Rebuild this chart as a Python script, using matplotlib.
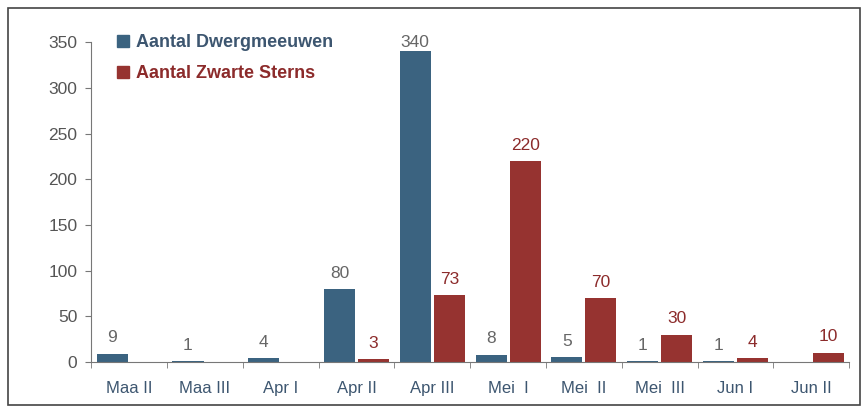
import matplotlib.pyplot as plt
from matplotlib.patches import Rectangle, Patch
import numpy as np

plt.rcParams['font.family'] = ['Liberation Sans', 'DejaVu Sans']

categories = ['Maa II', 'Maa III', 'Apr I', 'Apr II', 'Apr III',
              'Mei  I', 'Mei  II', 'Mei  III', 'Jun I', 'Jun II']
dwergmeeuwen = [9, 1, 4, 80, 340, 8, 5, 1, 1, 0]
zwarte_sterns = [0, 0, 0, 3, 73, 220, 70, 30, 4, 10]
yticks = [0, 50, 100, 150, 200, 250, 300, 350]

blue = '#3b6380'
red = '#963330'
blue_txt = '#3d5670'
red_txt = '#8c2b2b'

fig = plt.figure(figsize=(8.62, 4.09), dpi=100)
ax = fig.add_axes([0.106, 0.115, 0.879, 0.782])

x = np.arange(len(categories))
w = 0.41
off = 0.225
ax.bar(x - off, dwergmeeuwen, w, color=blue)
ax.bar(x + off, zwarte_sterns, w, color=red)

# waardes boven de balken, nullen niet tonen
for i, v in enumerate(dwergmeeuwen):
    if v > 0:
        ax.annotate(str(v), (x[i] - off, v), xytext=(0, 6 if v < 300 else 1),
                    textcoords='offset points', ha='center', va='bottom',
                    fontsize=12.5, color='#666666')
for i, v in enumerate(zwarte_sterns):
    if v > 0:
        ax.annotate(str(v), (x[i] + off, v), xytext=(0, 6),
                    textcoords='offset points', ha='center', va='bottom',
                    fontsize=12.5, color=red_txt)

ax.set_xlim(-0.5, len(categories) - 0.5)
ax.set_ylim(0, 350)
ax.set_yticks(yticks)
ax.set_xticks(x)
ax.set_xticklabels(categories, color=blue_txt, fontsize=12)
ax.set_xticks(np.arange(len(categories) + 1) - 0.5, minor=True)
ax.tick_params(axis='x', which='major', length=0, pad=14)
ax.tick_params(axis='x', which='minor', length=4, color='#777777')
ax.tick_params(axis='y', length=4, color='#777777', labelcolor='#555555',
               labelsize=12.5, pad=6)

for s in ['top', 'right']:
    ax.spines[s].set_visible(False)
ax.spines['left'].set_color('#777777')
ax.spines['bottom'].set_color('#777777')

leg = ax.legend(handles=[Patch(color=blue), Patch(color=red)],
                labels=['Aantal Dwergmeeuwen', 'Aantal Zwarte Sterns'],
                loc='upper left', bbox_to_anchor=(0.013, 1.075), frameon=False,
                handlelength=0.65, handleheight=0.65, handletextpad=0.35,
                labelspacing=0.75, fontsize=13)
leg.get_texts()[0].set_color(blue_txt)
leg.get_texts()[1].set_color(red_txt)
leg.get_texts()[0].set_fontweight('bold')
leg.get_texts()[1].set_fontweight('bold')

fig.patches.append(Rectangle((8 / 862, 4 / 409), 852 / 862, 397 / 409,
                             transform=fig.transFigure, fill=False,
                             edgecolor='#444444', linewidth=1.2))

fig.savefig('out.png', dpi=100)
